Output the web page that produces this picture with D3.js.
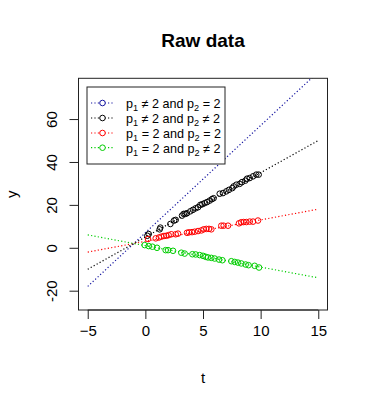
<!DOCTYPE html>
<html>
<head>
<meta charset="utf-8">
<script src="https://cdn.jsdelivr.net/npm/d3@7"></script>
<style>
  body { margin: 0; background: #fff; }
  text { font-family: "Liberation Sans", Arial, Helvetica, sans-serif; fill: #000; }
</style>
</head>
<body>
<svg id="chart"></svg>
<script>
// series (legend order)
const groups = ["p1!=2,p2=2", "p1!=2,p2!=2", "p1=2,p2=2", "p1=2,p2!=2"];
const colors = ["#1414a0", "#000000", "#ff0000", "#00cd00"];
const legendParts = [
    ["\u2260", "="],
    ["\u2260", "\u2260"],
    ["=", "="],
    ["=", "\u2260"]
];

// fitted lines, y = a + b * t, drawn for t in [-5, 15]
const intercepts = [7, 5, 3, 1];
const slopes = [5, 3, 1, -1];
const lineRange = [-5, 15];

// observed points (the first group has none shown)
const blackT = [0.17, 0.29, 1.24, 1.30, 2.17, 2.49, 2.63, 3.18, 3.32, 3.47, 3.61, 3.90, 4.13, 4.36, 4.57, 4.77, 4.94, 5.14, 5.35, 5.58, 5.78, 5.92, 6.45, 6.73, 7.02, 7.25, 7.54, 7.66, 7.89, 8.18, 8.38, 8.67, 8.82, 9.05, 9.34, 9.62, 9.83];
const blackY = [5.6, 6.4, 8.6, 9.4, 11.1, 12.7, 13.0, 15.0, 15.8, 15.8, 16.1, 17.0, 17.7, 18.4, 18.9, 20.0, 20.3, 20.8, 21.3, 22.0, 22.7, 23.1, 25.2, 25.5, 26.3, 27.0, 27.8, 28.6, 29.4, 29.8, 30.6, 31.3, 32.2, 32.5, 33.3, 34.1, 34.1];
const redT = [0.23, 0.90, 1.18, 1.39, 1.62, 1.82, 2.02, 2.25, 2.63, 2.83, 3.61, 3.79, 4.05, 4.28, 4.57, 4.86, 5.06, 5.29, 5.52, 5.72, 6.59, 6.79, 7.17, 8.12, 8.32, 8.53, 8.76, 9.05, 9.34, 9.77];
const redY = [4.1, 4.4, 4.8, 5.2, 5.5, 5.6, 5.9, 6.3, 6.3, 6.6, 7.0, 7.2, 7.3, 7.5, 7.8, 8.1, 8.6, 8.8, 8.8, 8.6, 10.3, 10.3, 10.3, 11.4, 11.9, 12.0, 12.0, 12.2, 12.2, 12.7];
const greenT = [-0.06, 0.29, 0.61, 1.01, 1.76, 1.97, 2.40, 3.12, 3.41, 4.08, 4.36, 4.71, 5.00, 5.23, 5.43, 5.72, 6.01, 6.39, 6.68, 7.46, 7.75, 8.03, 8.32, 8.70, 8.95, 9.48, 9.86];
const greenY = [1.25, 0.8, 0.5, 0.0, -1.1, -1.1, -1.4, -2.3, -2.7, -3.0, -3.1, -3.4, -3.75, -4.2, -4.5, -4.7, -5.0, -5.5, -5.8, -6.25, -6.6, -6.9, -7.3, -7.8, -8.1, -8.4, -9.2];

const xTicks = [-5, 0, 5, 10, 15];
const yTicks = [-20, 0, 20, 40, 60];

const width = 368, height = 408;
const plot = { left: 78.5, right: 327.5, top: 78.3, bottom: 310 };

const svg = d3.select("#chart").attr("width", width).attr("height", height);

const x = d3.scaleLinear().domain([-5.8, 15.8]).range([plot.left, plot.right]);
const y = d3.scaleLinear().domain([-29, 79]).range([plot.bottom, plot.top]);

svg.append("defs").append("clipPath").attr("id", "clip")
    .append("rect")
    .attr("x", plot.left).attr("y", plot.top)
    .attr("width", plot.right - plot.left).attr("height", plot.bottom - plot.top);

// fitted lines
const lineGen = d3.line().x(d => x(d[0])).y(d => y(d[1]));
const lines = svg.append("g").attr("clip-path", "url(#clip)");
intercepts.forEach((a, i) => {
    const pts = lineRange.map(t => [t, a + slopes[i] * t]);
    lines.append("path")
        .attr("d", lineGen(pts))
        .attr("fill", "none")
        .attr("stroke", colors[i])
        .attr("stroke-width", 1.2)
        .attr("stroke-dasharray", "1.2,2.2");
});

// points
const series = [
    { t: [], v: [], color: colors[0] },
    { t: blackT, v: blackY, color: colors[1] },
    { t: redT, v: redY, color: colors[2] },
    { t: greenT, v: greenY, color: colors[3] }
];
series.forEach(s => {
    svg.append("g").selectAll("circle")
        .data(s.t.map((t, i) => [t, s.v[i]]))
        .enter().append("circle")
        .attr("cx", d => x(d[0]))
        .attr("cy", d => y(d[1]))
        .attr("r", 2.8)
        .attr("fill", "none")
        .attr("stroke", s.color)
        .attr("stroke-width", 1);
});

// box
svg.append("rect")
    .attr("x", plot.left).attr("y", plot.top)
    .attr("width", plot.right - plot.left).attr("height", plot.bottom - plot.top)
    .attr("fill", "none").attr("stroke", "#222").attr("stroke-width", 1);

// x axis
const xAxis = svg.append("g")
    .attr("transform", `translate(0,${plot.bottom})`)
    .call(d3.axisBottom(x).tickValues(xTicks).tickSize(9).tickPadding(6).tickSizeOuter(0));
xAxis.select(".domain").attr("d", `M${x(-5)},0H${x(15)}`).attr("stroke", "#222");
xAxis.selectAll(".tick line").attr("stroke", "#222");
xAxis.selectAll("text")
    .attr("font-size", 15)
    .attr("font-family", "Liberation Sans, Arial, sans-serif")
    .attr("fill", "#000")
    .attr("dy", "0.71em");

// y axis
const yAxis = svg.append("g")
    .attr("transform", `translate(${plot.left},0)`)
    .call(d3.axisLeft(y).tickValues(yTicks).tickSize(9).tickSizeOuter(0).tickFormat(d => d));
yAxis.select(".domain").attr("d", `M0,${y(-20)}V${y(60)}`).attr("stroke", "#222");
yAxis.selectAll(".tick line").attr("stroke", "#222");
yAxis.selectAll("text")
    .attr("font-size", 15)
    .attr("font-family", "Liberation Sans, Arial, sans-serif")
    .attr("fill", "#000")
    .attr("x", null).attr("dy", null)
    .attr("text-anchor", "middle")
    .attr("transform", "translate(-22,0) rotate(-90)");

// titles
svg.append("text")
    .attr("x", (plot.left + plot.right) / 2).attr("y", 46.5)
    .attr("text-anchor", "middle")
    .attr("font-size", 19).attr("font-weight", "bold")
    .text("Raw data");

svg.append("text")
    .attr("x", (plot.left + plot.right) / 2).attr("y", 383)
    .attr("text-anchor", "middle")
    .attr("font-size", 15)
    .text("t");

svg.append("text")
    .attr("transform", `translate(17,${(plot.top + plot.bottom) / 2}) rotate(-90)`)
    .attr("text-anchor", "middle")
    .attr("font-size", 15)
    .text("y");

// legend
const legend = svg.append("g");
legend.append("rect")
    .attr("x", 87).attr("y", 87)
    .attr("width", 138).attr("height", 77)
    .attr("fill", "#fff").attr("stroke", "#222").attr("stroke-width", 1);

const rowY = [103, 118, 133, 147.7];
groups.forEach((g, i) => {
    const row = legend.append("g").attr("transform", `translate(0,${rowY[i]})`);
    row.append("line")
        .attr("x1", 91).attr("x2", 114).attr("y1", 0).attr("y2", 0)
        .attr("stroke", colors[i]).attr("stroke-width", 1.2)
        .attr("stroke-dasharray", "1.2,2.2");
    row.append("circle")
        .attr("cx", 102.5).attr("cy", 0).attr("r", 2.8)
        .attr("fill", "#fff").attr("stroke", colors[i]);
    const txt = row.append("text")
        .attr("x", 126).attr("y", 5)
        .attr("font-size", 12.6);
    txt.append("tspan").text("p");
    txt.append("tspan").attr("font-size", 9.2).attr("dy", 3).text("1");
    txt.append("tspan").attr("dy", -3).text(` ${legendParts[i][0]} 2 and p`);
    txt.append("tspan").attr("font-size", 9.2).attr("dy", 3).text("2");
    txt.append("tspan").attr("dy", -3).text(` ${legendParts[i][1]} 2`);
});
</script>
</body>
</html>
